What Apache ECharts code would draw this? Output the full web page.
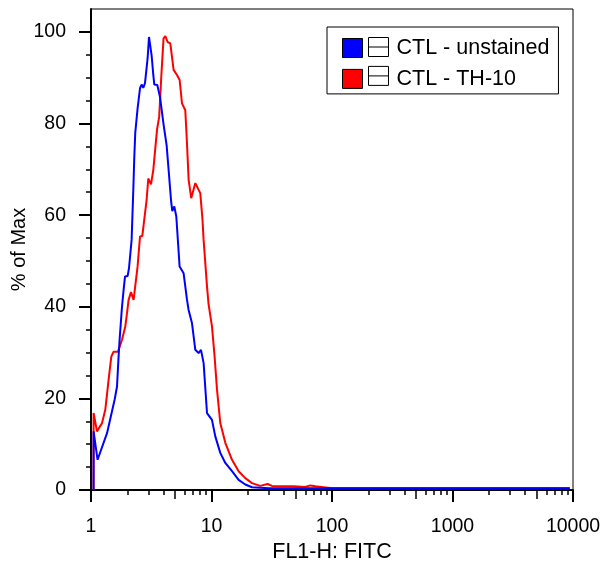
<!DOCTYPE html>
<html>
<head>
<meta charset="utf-8">
<title>FL1-H: FITC</title>
<script src="https://cdn.jsdelivr.net/npm/echarts@6/dist/echarts.min.js"></script>
<style>
html, body { margin: 0; padding: 0; background: #fff; }
#chart { width: 607px; height: 561px; }
</style>
</head>
<body>
<div id="chart"></div>
<script>
// series names
var seriesNames = ['CTL - unstained', 'CTL - TH-10'];

// CTL - unstained : FL1-H value / % of Max
var unstainedX = [1.05, 1.051, 1.134, 1.358, 1.57, 1.644, 1.694, 1.727, 1.808, 1.865, 1.915, 2.012, 2.067, 2.173, 2.244, 2.288, 2.33, 2.436, 2.551, 2.63, 2.716, 2.806, 2.949, 3.029, 3.105, 3.184, 3.289, 3.353, 3.55, 3.738, 4.005, 4.241, 4.406, 4.612, 4.728, 4.913, 5.104, 5.437, 5.869, 6.263, 6.457, 6.89, 7.338, 7.816, 8.182, 8.6, 9.177, 10.09, 10.75, 11.83, 13.02, 14.8, 16.79, 19.08, 21.69, 30, 100, 1000, 9400];
var unstainedY = [0, 12.8, 6.6, 12.4, 19.7, 22.6, 29.1, 32.8, 40, 43.7, 46.6, 46.7, 48.4, 54.6, 65.5, 72.8, 78, 83.3, 87.7, 88.5, 87.8, 88.8, 94.2, 98.9, 99.2, 94.9, 90.6, 88.5, 88.4, 85.8, 79.7, 75.3, 69.9, 63.3, 60.9, 61.9, 59.7, 48.8, 47.3, 41.5, 39.3, 36.4, 30.6, 29.9, 30.6, 27.7, 16.8, 15.3, 11.7, 8.1, 5.9, 4.1, 2.2, 1.2, 0.6, 0.4, 0.4, 0.4, 0.4];

// CTL - TH-10 : FL1-H value / % of Max
var th10X = [1.05, 1.051, 1.121, 1.234, 1.314, 1.4, 1.474, 1.54, 1.675, 1.808, 1.926, 1.99, 2.051, 2.148, 2.257, 2.288, 2.436, 2.551, 2.666, 2.769, 2.893, 2.989, 3.087, 3.147, 3.289, 3.53, 3.68, 3.83, 4.0, 4.14, 4.32, 4.55, 4.85, 5.17, 5.44, 5.69, 6.06, 6.26, 6.46, 6.79, 7.34, 8.07, 8.42, 8.6, 9.18, 9.46, 10.09, 10.61, 11.11, 11.83, 13.02, 14.8, 16.79, 19.08, 21.69, 25.41, 29.22, 31.78, 48, 49.6, 60, 66.1, 72.7, 75.1, 100, 1000, 9400];
var th10Y = [0, 16.8, 12.8, 14.6, 17.5, 24.1, 29.1, 30.2, 30.2, 32.8, 35.7, 38.6, 41.5, 43.2, 41.5, 41.7, 48.8, 55.3, 55.5, 55.3, 63.3, 68, 67.8, 66.7, 69.9, 78.6, 81.5, 90.2, 98.6, 99.1, 97.8, 97.5, 91.7, 90.6, 89.5, 84.4, 82.9, 75.7, 67.7, 63.7, 67, 64.8, 59, 54.6, 44.4, 40.5, 35.7, 29.1, 21.9, 14.6, 10.3, 6.6, 4.1, 2.6, 1.5, 0.9, 1.3, 0.9, 0.8, 0.6, 0.65, 1.0, 0.8, 0.5, 0.4, 0.4, 0.4];

// axis ticks
var xMidTicks = [5, 50, 500, 5000];
var xMinorTicks = [2, 3, 4, 6, 7, 8, 9, 20, 30, 40, 60, 70, 80, 90, 200, 300, 400, 600, 700, 800, 900, 2000, 3000, 4000, 6000, 7000, 8000, 9000];
var yMinorTicks = [5, 10, 15, 25, 30, 35, 45, 50, 55, 65, 70, 75, 85, 90, 95];

function toPairs(xs, ys) {
	var out = [];
	for (var i = 0; i < xs.length; i++) {
		out.push([xs[i], ys[i]]);
	}
	return out;
}

var fontName = '"Liberation Sans", Arial, sans-serif';

// 只画刻度的辅助 x 轴
function tickAxis(ticks, len) {
	return {
		type: 'log', logBase: 10, min: 1, max: 10000, gridIndex: 0, position: 'bottom',
		axisLine: {show: false, onZero: false},
		axisLabel: {show: false},
		splitLine: {show: false},
		axisTick: {show: true, length: len, customValues: ticks, lineStyle: {color: '#000', width: 1.5}}
	};
}

var myChart = echarts.init(document.getElementById('chart'));
var option = {
	animation: false,
	backgroundColor: '#fff',
	grid: {
		left: 91, right: 34, top: 9, bottom: 71,
		outerBoundsMode: 'none', containLabel: false,
		show: true, borderColor: '#000', borderWidth: 1, backgroundColor: 'transparent'
	},
	legend: [
		{
			data: [seriesNames[0], seriesNames[1]],
			orient: 'vertical',
			left: 327, top: 27,
			padding: [10, 9, 4, 15],
			itemGap: 8.9,
			itemWidth: 20, itemHeight: 19,
			icon: 'rect',
			selectedMode: false,
			backgroundColor: '#fff',
			borderColor: '#000', borderWidth: 1, borderRadius: 0,
			itemStyle: {borderColor: '#000', borderWidth: 1},
			textStyle: {fontFamily: fontName, fontSize: 21.5, color: '#000', lineHeight: 19, padding: [0, 0, 0, 29]}
		},
		{
			data: [seriesNames[0], seriesNames[1]],
			orient: 'vertical',
			left: 368, top: 37,
			padding: 0,
			itemGap: 8.9,
			itemWidth: 20, itemHeight: 19,
			icon: 'path://M0,0L20,0L20,19L0,19Z M0,9.5L20,9.5',
			selectedMode: false,
			itemStyle: {color: '#fff', borderColor: '#000', borderWidth: 1},
			formatter: function () { return ''; },
			textStyle: {fontSize: 1}
		}
	],
	xAxis: [
		{
			type: 'log', logBase: 10, min: 1, max: 10000, position: 'bottom',
			name: 'FL1-H: FITC', nameLocation: 'middle', nameGap: 44,
			nameTextStyle: {fontFamily: fontName, fontSize: 21.5, color: '#000'},
			axisLine: {show: true, onZero: false, lineStyle: {color: '#000', width: 2}},
			axisTick: {show: true, length: 12, lineStyle: {color: '#000', width: 2}},
			axisLabel: {
				show: true, margin: 26.5,
				fontFamily: fontName, fontSize: 19.5, color: '#000',
				formatter: function (v) { return String(Math.round(v)); }
			},
			splitLine: {show: false}
		},
		tickAxis(xMidTicks, 9),
		tickAxis(xMinorTicks, 5)
	],
	yAxis: [
		{
			type: 'value', min: 0, max: 105, interval: 20, position: 'left',
			name: '% of Max', nameLocation: 'middle', nameGap: 62, nameRotate: 90,
			nameMoveOverlap: false,
			nameTextStyle: {fontFamily: fontName, fontSize: 20, color: '#000'},
			axisLine: {show: true, onZero: false, lineStyle: {color: '#000', width: 2}},
			axisTick: {show: true, length: 12, lineStyle: {color: '#000', width: 2}},
			axisLabel: {show: true, margin: 25, showMaxLabel: false, fontFamily: fontName, fontSize: 19.5, color: '#000'},
			splitLine: {show: false}
		},
		{
			type: 'value', min: 0, max: 105, position: 'left',
			axisLine: {show: false, onZero: false},
			axisLabel: {show: false},
			splitLine: {show: false},
			axisTick: {show: true, length: 5, customValues: yMinorTicks, lineStyle: {color: '#000', width: 1.5}}
		}
	],
	series: [
		{
			name: seriesNames[1],
			type: 'line',
			data: toPairs(th10X, th10Y),
			showSymbol: false, symbol: 'none',
			lineStyle: {color: '#ff0000', width: 2},
			itemStyle: {color: '#ff0000'},
			z: 2
		},
		{
			name: seriesNames[0],
			type: 'line',
			data: toPairs(unstainedX, unstainedY),
			showSymbol: false, symbol: 'none',
			lineStyle: {color: '#0000ff', width: 2},
			itemStyle: {color: '#0000ff'},
			z: 3
		}
	]
};
myChart.setOption(option);
</script>
</body>
</html>
